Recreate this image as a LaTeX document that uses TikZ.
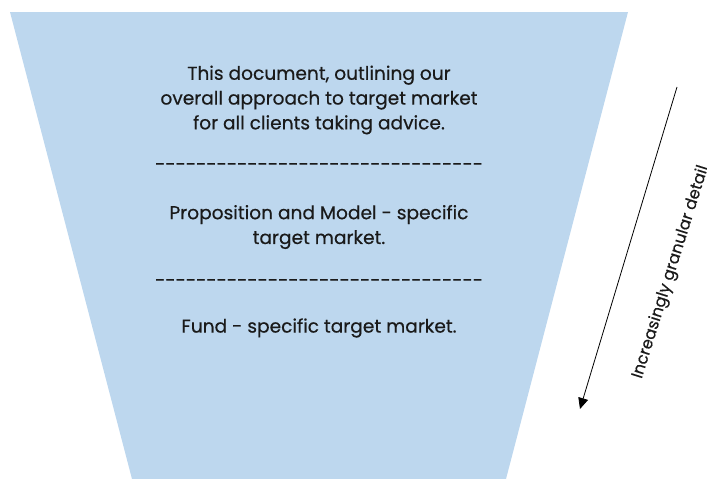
\documentclass[tikz,border=0pt]{standalone}
\usepackage{fontspec}
\setmainfont{Poppins}[Ligatures=TeXOff, FakeBold=0.4]
\usetikzlibrary{arrows.meta}
\definecolor{funnelblue}{HTML}{BDD7EE}
\definecolor{inkdark}{HTML}{1A1A1A}
\begin{document}
\begin{tikzpicture}[x=1pt,y=-1pt,
  bodytext/.style={font=\fontsize{18.6}{24.8}\selectfont, text=inkdark, align=center, inner sep=0pt},
  sidetext/.style={font=\fontsize{16.2}{18}\selectfont, text=inkdark, inner sep=0pt}]
  \useasboundingbox (0,0) rectangle (707,479);
  % funnel body
  \fill[funnelblue] (10,12) -- (628,12) -- (506,479) -- (132,479) -- cycle;
  % tier texts
  \node[bodytext] (t1) at (319,100) {This document, outlining our\\overall approach to target market\\for all clients taking advice.};
  \node[bodytext] (d1) at (319,167) {--------------------------------};
  \node[bodytext] (t2) at (319,227) {Proposition and Model - specific\\target market.};
  \node[bodytext] (d2) at (319,283) {--------------------------------};
  \node[bodytext] (t3) at (319,328) {Fund - specific target market.};
  % direction arrow
  \coordinate (a0) at (677,87);
  \coordinate (a1) at (580,409);
  \draw[line width=0.8pt, -{Triangle[length=11pt,width=10pt]}] (a0) -- (a1);
  \node[sidetext, rotate=72.6] (lab) at (671,272) {Increasingly granular detail};
\end{tikzpicture}
\end{document}
